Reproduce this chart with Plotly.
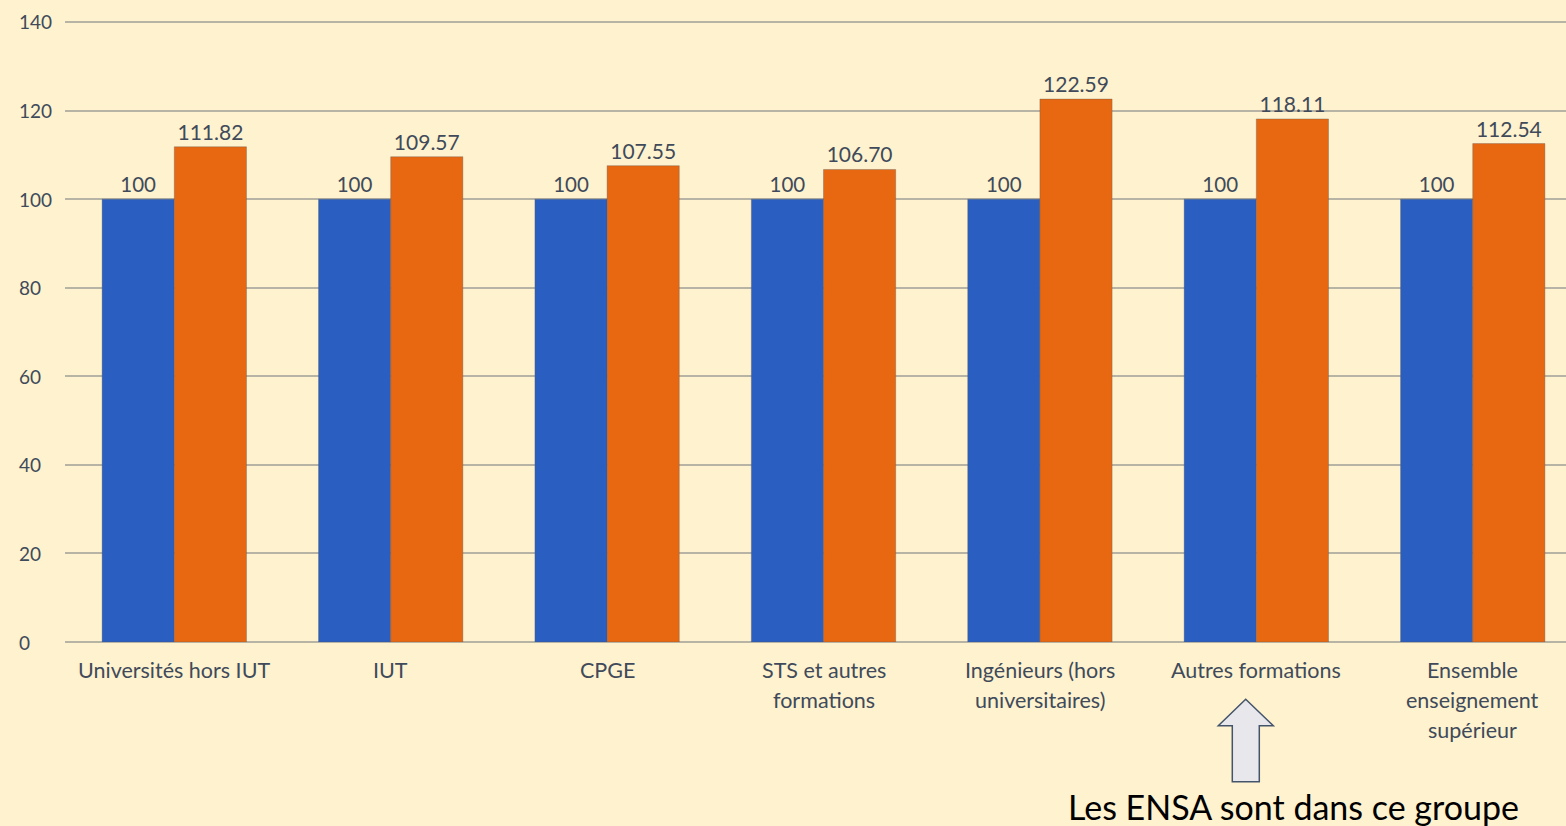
import plotly.graph_objects as go

categories = ["Universités hors IUT", "IUT", "CPGE", "STS et autres\nformations",
              "Ingénieurs (hors\nuniversitaires)", "Autres formations",
              "Ensemble\nenseignement\nsupérieur"]
base_values = [100, 100, 100, 100, 100, 100, 100]
new_values = [111.82, 109.57, 107.55, 106.70, 122.59, 118.11, 112.54]
y_ticks = [0, 20, 40, 60, 80, 100, 120, 140]
note_text = "Les ENSA sont dans ce groupe"

W, H = 1566, 826
ML, MR, MT, MB = 65, 0, 20, 184
PW, PH = W - ML - MR, H - MT - MB
YTOP = 140.45

def px(x):
    return (x - ML) / PW

def py(y):
    return (H - MB - y) / PH

TXT = "#404A5A"
FONT = "Lato"

fig = go.Figure()
fig.add_trace(go.Bar(
    x=categories, y=base_values, name="base",
    marker=dict(color="#2A5EC0", line=dict(color="rgba(90,90,90,0.35)", width=1)),
    texttemplate="%{y:.0f}", textposition="outside",
    textfont=dict(size=20.5, color=TXT, family=FONT), cliponaxis=False,
))
fig.add_trace(go.Bar(
    x=categories, y=new_values, name="new",
    marker=dict(color="#E86812", line=dict(color="rgba(90,90,90,0.35)", width=1)),
    texttemplate="%{y:.2f}", textposition="outside",
    textfont=dict(size=21, color=TXT, family=FONT), cliponaxis=False,
))

annotations = []
for t in y_ticks:
    annotations.append(dict(x=px(17), xref="paper", y=t, yref="y", text=str(t),
                            xanchor="left", yanchor="middle", showarrow=False,
                            font=dict(size=19, color=TXT, family=FONT)))
for cat in categories:
    for i, line in enumerate(cat.split("\n")):
        annotations.append(dict(x=cat, xref="x", y=py(670 + 30 * i), yref="paper",
                                text=line, xanchor="center", yanchor="middle",
                                showarrow=False,
                                font=dict(size=21.5, color=TXT, family=FONT)))
annotations.append(dict(x=px(1293), xref="paper", y=py(806), yref="paper",
                        text=note_text, xanchor="center", yanchor="middle",
                        showarrow=False, font=dict(size=34, color="#000000", family=FONT)))

arrow_pts = [(1245.7, 699.3), (1273.3, 725.7), (1259.3, 725.7), (1259.3, 781.7),
             (1232.3, 781.7), (1232.3, 725.7), (1218.3, 725.7)]
path = "M " + " L ".join(f"{px(a):.5f},{py(b):.5f}" for a, b in arrow_pts) + " Z"

fig.update_layout(
    width=W, height=H, autosize=False,
    margin=dict(l=ML, r=MR, t=MT, b=MB, pad=0),
    paper_bgcolor="#FEF2CF", plot_bgcolor="#FEF2CF",
    barmode="group", bargap=0.333, bargroupgap=0,
    showlegend=False,
    font=dict(family=FONT, color=TXT),
    xaxis=dict(type="category", range=[-0.505, 6.431], showticklabels=False,
               showgrid=False, zeroline=False, showline=False, fixedrange=True),
    yaxis=dict(range=[0, YTOP], tickvals=y_ticks, showticklabels=False,
               showgrid=True, gridcolor="#B7B4A6", gridwidth=2,
               zeroline=True, zerolinecolor="#B7B4A6", zerolinewidth=2,
               showline=False, fixedrange=True),
    annotations=annotations,
    shapes=[dict(type="path", path=path, xref="paper", yref="paper",
                 fillcolor="#E8E8EC", line=dict(color="#44546A", width=1.5), layer="above")],
)

fig.write_html("out.html", config={"displayModeBar": False},
               post_script="document.body.style.margin='0px';document.body.style.overflow='hidden';")
